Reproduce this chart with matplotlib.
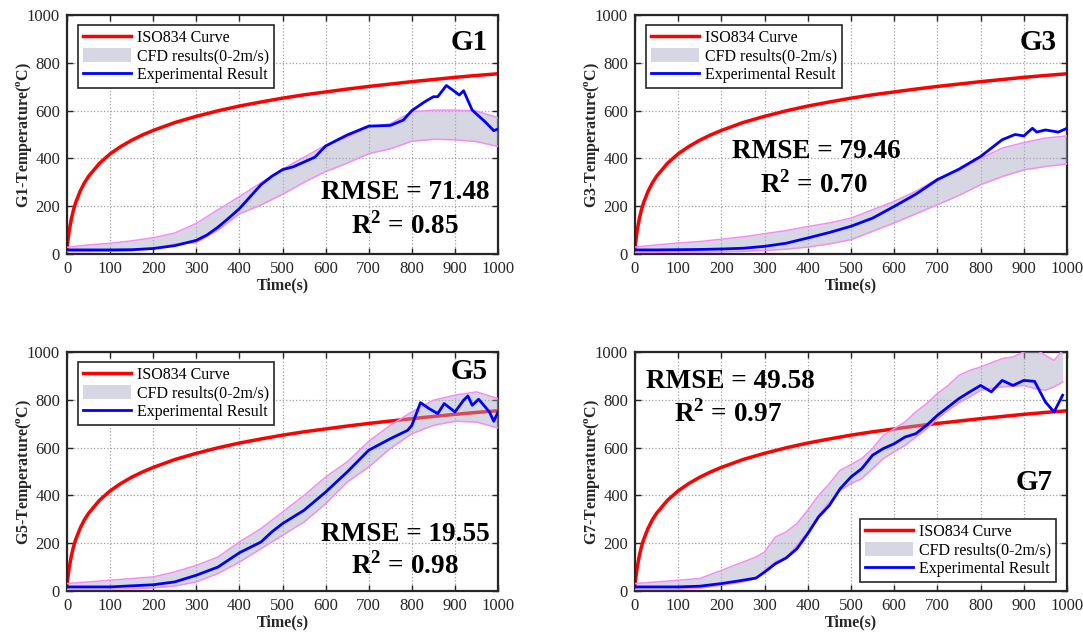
import matplotlib
matplotlib.use("Agg")
import matplotlib.pyplot as plt
from matplotlib.patches import Patch
from matplotlib.lines import Line2D

plt.rcParams['font.family'] = ['Liberation Serif', 'DejaVu Serif']
plt.rcParams['mathtext.fontset'] = 'custom'
plt.rcParams['mathtext.rm'] = 'Liberation Serif'
plt.rcParams['mathtext.bf'] = 'Liberation Serif:bold'

# ISO834 standard fire curve
t_iso = [0, 2, 5, 10, 15, 20, 30, 40, 50, 75, 100, 125, 150, 175, 200, 250, 300, 350, 400,
         450, 500, 550, 600, 650, 700, 750, 800, 850, 900, 950, 1000]
iso = [20, 55, 97, 147, 185, 215, 261, 297, 325, 379, 419, 450, 476, 498, 517, 550, 576, 599, 619,
       636, 652, 666, 678, 690, 701, 711, 721, 730, 739, 747, 754]

# CFD band time grid for G1, G3, G5
t_cfd = [0, 50, 100, 150, 200, 250, 300, 350, 400, 450, 500, 550, 600, 650, 700, 750, 800,
         850, 900, 950, 1000]

# G1
g1_up = [28, 38, 45, 55, 68, 88, 128, 185, 240, 298, 355, 405, 455, 490, 530, 545, 595, 602, 602, 598, 570]
g1_lo = [10, 10, 12, 14, 22, 42, 48, 100, 168, 205, 250, 300, 345, 380, 420, 440, 472, 480, 478, 470, 450]
g1_exp_t = [0, 50, 100, 150, 200, 250, 300, 325, 350, 375, 400, 425, 450, 475, 500, 525, 550, 575,
            600, 650, 700, 750, 780, 800, 830, 850, 860, 880, 900, 910, 920, 940, 970, 990, 1000]
g1_exp = [17, 17, 17, 18, 23, 35, 57, 80, 112, 150, 190, 240, 290, 325, 353, 365, 385, 405,
          452, 498, 535, 538, 560, 600, 637, 658, 658, 705, 679, 665, 683, 602, 553, 516, 523]

# G3
g3_up = [29, 38, 46, 52, 62, 72, 85, 98, 115, 130, 150, 185, 220, 262, 315, 350, 400, 443, 466, 485, 494]
g3_lo = [7, 7, 8, 8, 9, 11, 15, 20, 29, 42, 60, 95, 130, 168, 206, 245, 290, 324, 352, 366, 377]
g3_exp_t = [0, 50, 100, 150, 200, 250, 300, 350, 400, 450, 500, 550, 600, 650, 700, 750, 800,
            850, 880, 900, 920, 930, 950, 980, 1000]
g3_exp = [17, 17, 18, 19, 21, 24, 32, 45, 67, 90, 116, 150, 199, 250, 311, 355, 408,
          478, 500, 494, 526, 510, 519, 510, 526]

# G5
g5_up = [31, 38, 45, 52, 59, 80, 107, 142, 205, 261, 330, 400, 477, 540, 626, 693, 749, 798, 819, 833, 805]
g5_lo = [7, 7, 7, 9, 13, 21, 38, 73, 121, 177, 233, 289, 365, 456, 519, 596, 658, 693, 710, 707, 682]
g5_exp_t = [0, 100, 200, 250, 300, 350, 400, 450, 475, 500, 550, 600, 650, 700, 750, 790, 800,
            820, 840, 860, 875, 900, 920, 930, 940, 955, 980, 990, 1000]
g5_exp = [17, 17, 26, 38, 66, 100, 160, 205, 247, 282, 338, 414, 498, 589, 637, 672, 693,
          788, 763, 742, 784, 749, 798, 816, 777, 802, 749, 710, 749]

# G7
t7 = [0, 50, 100, 150, 200, 250, 280, 300, 325, 350, 375, 400, 425, 450, 475, 500, 525, 550,
      575, 600, 625, 650, 675, 700, 725, 750, 775, 800, 825, 850, 875, 900, 925, 950, 970, 990]
g7_up = [31, 38, 45, 52, 86, 121, 142, 163, 226, 247, 282, 338, 400, 449, 505, 529, 554, 596,
         651, 679, 707, 749, 784, 826, 860, 902, 923, 937, 955, 972, 979, 1000, 1014, 986, 965, 1007]
g7_lo = [7, 7, 7, 12, 24, 38, 52, 86, 121, 142, 191, 247, 317, 372, 421, 449, 470, 512,
         554, 582, 609, 644, 679, 721, 756, 788, 812, 840, 848, 854, 857, 860, 847, 840, 854, 874]
g7_exp = [17, 17, 17, 20, 31, 45, 54, 79, 114, 138, 177, 240, 310, 358, 428, 477, 512, 568,
          596, 616, 644, 658, 693, 735, 770, 805, 833, 860, 833, 881, 860, 881, 877, 791, 749, 819]

RED = '#ff0000'
BLUE = '#0000ff'
PINK = '#f58cf5'
BAND = '#a8a8c4'
AXC = '#262626'

plt.rcParams.update({'legend.handlelength': 3.0, 'legend.handletextpad': 0.4,
                     'legend.handleheight': 0.95, 'legend.labelspacing': 0.13,
                     'legend.borderpad': 0.3, 'legend.fancybox': False,
                     'legend.framealpha': 1, 'legend.fontsize': 11.5})


def drawPanel(ax, name, tb, up, lo, te, ex, rmse, r2, txt_pos, r2_pos, name_pos, leg_loc):
    ax.plot(t_iso, iso, color=RED, lw=2.5, zorder=2)
    ax.fill_between(tb, lo, up, color=BAND, alpha=0.45, lw=0, zorder=3)
    ax.plot(tb, up, color=PINK, lw=1.1, zorder=3)
    ax.plot(tb, lo, color=PINK, lw=1.1, zorder=3)
    ax.plot(te, ex, color=BLUE, lw=2, zorder=4)

    ax.set_xlim(0, 1000)
    ax.set_ylim(0, 1000)
    ax.set_xticks(range(0, 1001, 100))
    ax.set_yticks(range(0, 1001, 200))
    ax.grid(True, linestyle=':', color='#a0a0a0', lw=0.9)
    ax.tick_params(direction='in', top=True, right=True, length=4, width=1,
                   labelsize=12, colors=AXC, pad=5)
    for s in ax.spines.values():
        s.set_linewidth(1.6)
        s.set_color(AXC)
    ax.set_xlabel('Time(s)', fontsize=11.5, fontweight='bold', color=AXC, labelpad=0)
    ax.set_ylabel(name + r'-Temperature($^{\mathbf{o}}$C)', fontsize=11.5, fontweight='bold',
                  color=AXC)
    ax.yaxis.set_label_coords(-0.076, 0.5)

    ax.text(name_pos[0], name_pos[1], name, transform=ax.transAxes, ha='right', va='center',
            fontsize=21, fontweight='bold', zorder=6)
    ax.text(txt_pos[0], txt_pos[1], 'RMSE = ' + rmse, transform=ax.transAxes, ha='center',
            va='center', fontsize=19.5, fontweight='bold', zorder=6)
    ax.text(r2_pos[0], r2_pos[1], r'R$^{\mathbf{2}}$ = ' + r2, transform=ax.transAxes,
            ha='center', va='center', fontsize=19.5, fontweight='bold', zorder=6)

    handles = [Line2D([], [], color=RED, lw=2.5),
               Patch(facecolor=BAND, alpha=0.45, edgecolor='none'),
               Line2D([], [], color=BLUE, lw=2)]
    labels = ['ISO834 Curve', 'CFD results(0-2m/s)', 'Experimental Result']
    if leg_loc == 'ul':
        leg = ax.legend(handles, labels, loc='upper left', bbox_to_anchor=(0.026, 0.958),
                        borderaxespad=0)
    else:
        leg = ax.legend(handles, labels, loc='lower right', bbox_to_anchor=(0.975, 0.039),
                        borderaxespad=0)
    leg.get_frame().set_edgecolor(AXC)
    leg.get_frame().set_linewidth(1.2)
    leg.set_zorder(7)
    return leg


fig = plt.figure(figsize=(10.83, 6.32), dpi=100)
ax1 = fig.add_axes([0.0619, 0.5981, 0.398, 0.3782])
ax3 = fig.add_axes([0.5863, 0.5981, 0.3989, 0.3782])
ax5 = fig.add_axes([0.0619, 0.0649, 0.398, 0.3782])
ax7 = fig.add_axes([0.5863, 0.0649, 0.3989, 0.3782])

drawPanel(ax1, 'G1', t_cfd, g1_up, g1_lo, g1_exp_t, g1_exp, '71.48', '0.85',
          (0.784, 0.256), (0.784, 0.12), (0.975, 0.884), 'ul')
drawPanel(ax3, 'G3', t_cfd, g3_up, g3_lo, g3_exp_t, g3_exp, '79.46', '0.70',
          (0.42, 0.428), (0.415, 0.292), (0.977, 0.884), 'ul')
drawPanel(ax5, 'G5', t_cfd, g5_up, g5_lo, g5_exp_t, g5_exp, '19.55', '0.98',
          (0.784, 0.238), (0.784, 0.107), (0.975, 0.92), 'ul')
drawPanel(ax7, 'G7', t7, g7_up, g7_lo, t7, g7_exp, '49.58', '0.97',
          (0.222, 0.876), (0.215, 0.74), (0.968, 0.453), 'lr')

fig.savefig('out.png', dpi=100)
